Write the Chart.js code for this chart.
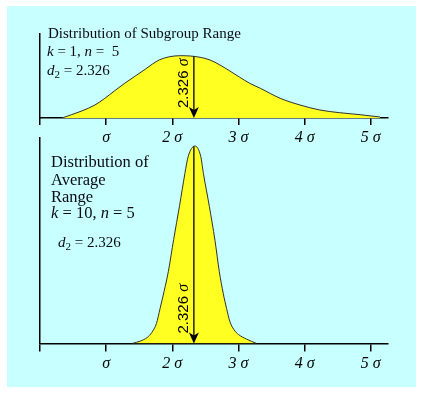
<!DOCTYPE html>
<html>
<head>
<meta charset="utf-8">
<script src="https://cdn.jsdelivr.net/npm/chart.js@4.4.1/dist/chart.umd.min.js"></script>
<style>
  html, body { margin: 0; padding: 0; background: #fff; }
  #panel { position: absolute; left: 7px; top: 6px; width: 409px; height: 381px; background: #c8ffff; }
  canvas { position: absolute; left: 0; }
  #top { top: 0; }
  #bottom { top: 130px; }
</style>
</head>
<body>
<div id="panel"></div>
<canvas id="top" width="421" height="150"></canvas>
<canvas id="bottom" width="421" height="263"></canvas>
<script>
// x values are in units of sigma
const tickValues = [0, 1, 2, 3, 4, 5];
const tickLabels = ['', 'σ', '2 σ', '3 σ', '4 σ', '5 σ'];
const xMax = 5.26;
const d2 = 2.326;

// k = 1, n = 5 : distribution of one subgroup range
const rangeX = [0.33, 0.63, 0.83, 0.98, 1.13, 1.28, 1.44, 1.59, 1.70, 1.81, 1.96, 2.12, 2.27, 2.42, 2.57, 2.72, 2.87, 3.02, 3.17, 3.33, 3.63, 3.93, 4.23, 4.53, 4.84, 5.14];
const rangeY = [0, 7, 13, 19.7, 27.3, 34.7, 42, 48.7, 54, 58.3, 61.3, 62.3, 62, 60.7, 58, 53, 47, 40.7, 34.7, 29.7, 19.7, 13, 8, 5.3, 3.3, 1];

// k = 10, n = 5 : distribution of the average range
const avgX = [1.39, 1.52, 1.62, 1.69, 1.76, 1.815, 1.875, 1.94, 2.02, 2.11, 2.19, 2.24, 2.34, 2.43, 2.47, 2.56, 2.645, 2.71, 2.77, 2.82, 2.87, 2.93, 3.00, 3.12, 3.275];
const avgY = [0, 2.5, 6, 11, 20, 35, 52, 72, 104, 138, 170, 187, 197.5, 187, 170, 137, 103, 72, 50, 35, 22, 14, 9, 4.5, 0];

const serif = '"Liberation Serif", "Times New Roman", serif';
const sans = '"Liberation Sans", Arial, sans-serif';

// arrow at d2 with the rotated "2.326 σ" label
const arrowPlugin = {
  id: 'd2Arrow',
  afterDatasetsDraw(chart, args, opts) {
    const { ctx, scales: { x, y } } = chart;
    const px = x.getPixelForValue(d2);
    const yTop = y.getPixelForValue(opts.top);
    const yBase = y.getPixelForValue(0);
    ctx.save();
    ctx.strokeStyle = '#000';
    ctx.lineWidth = 1.3;
    ctx.beginPath();
    ctx.moveTo(px, yTop);
    ctx.lineTo(px, yBase - 6);
    ctx.stroke();
    ctx.fillStyle = '#000';
    ctx.beginPath();
    ctx.moveTo(px, yBase);
    ctx.lineTo(px - 5, yBase - 11);
    ctx.lineTo(px, yBase - 8);
    ctx.lineTo(px + 5, yBase - 11);
    ctx.closePath();
    ctx.fill();

    ctx.translate(px - 6, yBase - 10);
    ctx.rotate(-Math.PI / 2);
    ctx.textBaseline = 'alphabetic';
    ctx.font = '15px ' + sans;
    ctx.fillText('2.326 ', 0, 0);
    const w = ctx.measureText('2.326 ').width;
    ctx.font = 'italic 16px ' + serif;
    ctx.fillText('σ', w, 0);
    ctx.restore();
  }
};

// free text, given as runs of differently styled pieces
const notesPlugin = {
  id: 'notes',
  afterDraw(chart, args, opts) {
    const { ctx, chartArea } = chart;
    ctx.save();
    ctx.fillStyle = '#0a0a14';
    ctx.textBaseline = 'alphabetic';
    opts.lines.forEach(line => {
      let cx = chartArea.left + line.x;
      line.runs.forEach(r => {
        const size = r.size || line.size;
        ctx.font = (r.italic ? 'italic ' : '') + size + 'px ' + serif;
        ctx.fillText(r.t, cx, chartArea.top + line.y + (r.dy || 0));
        cx += ctx.measureText(r.t).width;
      });
    });
    ctx.restore();
  }
};

function makeChart(id, xs, ys, yMax, pad, arrowTop, lines, tickLen) {
  return new Chart(document.getElementById(id), {
    type: 'line',
    data: {
      datasets: [{
        data: xs.map((v, i) => ({ x: v, y: ys[i] })),
        fill: 'origin',
        backgroundColor: '#ffff22',
        borderColor: '#303030',
        borderWidth: 1,
        pointRadius: 0,
        cubicInterpolationMode: 'monotone'
      }]
    },
    options: {
      responsive: false,
      animation: false,
      events: [],
      layout: { padding: pad },
      plugins: {
        legend: { display: false },
        tooltip: { enabled: false },
        d2Arrow: { top: arrowTop },
        notes: { lines: lines }
      },
      scales: {
        x: {
          type: 'linear',
          min: 0,
          max: xMax,
          afterBuildTicks: s => { s.ticks = tickValues.map(v => ({ value: v })); },
          afterFit: s => { s.height = 26; },
          grid: { drawOnChartArea: false, drawTicks: true, tickLength: tickLen, color: '#000', lineWidth: 1.5 },
          border: { color: '#000', width: 1.5 },
          ticks: {
            callback: v => tickLabels[tickValues.indexOf(v)],
            font: { family: serif, style: 'italic', size: 16 },
            color: '#000',
            padding: 3,
            maxRotation: 0,
            autoSkip: false
          }
        },
        y: {
          min: 0,
          max: yMax,
          afterFit: s => { s.width = 0; },
          grid: { display: false },
          border: { color: '#000', width: 1.5 },
          ticks: { display: false }
        }
      }
    },
    plugins: [arrowPlugin, notesPlugin]
  });
}

makeChart('top', rangeX, rangeY, 84.5,
  { left: 40, right: 33, top: 33.5, bottom: 6 }, 61.5, [
    { x: 8, y: 4.5, size: 15, runs: [{ t: 'Distribution of Subgroup Range' }] },
    { x: 7, y: 22.5, size: 15, runs: [{ t: 'k', italic: true }, { t: ' = 1, ' }, { t: 'n', italic: true }, { t: ' =  5' }] },
    { x: 7, y: 41.5, size: 15, runs: [{ t: 'd', italic: true }, { t: '2', size: 11, dy: 3 }, { t: ' = 2.326' }] }
  ], 7);

makeChart('bottom', avgX, avgY, 205.5,
  { left: 40, right: 33, top: 8, bottom: 23.5 }, 197, [
    { x: 11, y: 29.3, size: 16.5, runs: [{ t: 'Distribution of' }] },
    { x: 11, y: 47, size: 16.5, runs: [{ t: 'Average' }] },
    { x: 11, y: 63.7, size: 16.5, runs: [{ t: 'Range' }] },
    { x: 11, y: 80.3, size: 16.5, runs: [{ t: 'k', italic: true }, { t: ' = 10, ' }, { t: 'n', italic: true }, { t: ' = 5' }] },
    { x: 18, y: 108.7, size: 15, runs: [{ t: 'd', italic: true }, { t: '2', size: 11, dy: 3 }, { t: ' = 2.326' }] }
  ], 8);
</script>
</body>
</html>
